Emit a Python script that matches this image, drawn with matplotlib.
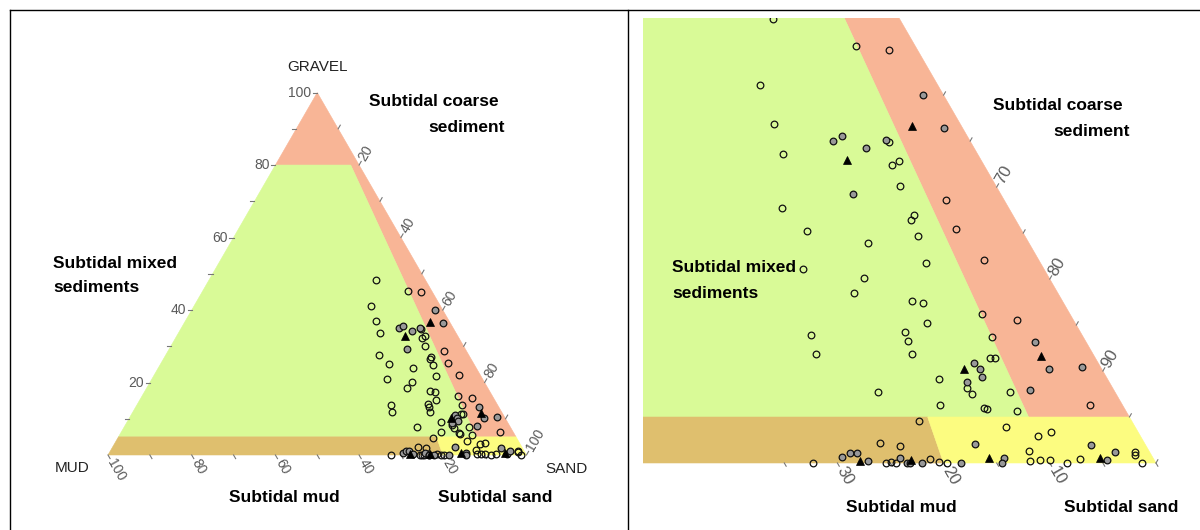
import numpy as np
import matplotlib.pyplot as plt
from matplotlib.lines import Line2D

plt.rcParams['font.family'] = ['Liberation Sans', 'DejaVu Sans']

# samples: percent gravel and percent mud (sand is the remainder)
open_gravel = [48.3, 41.1, 36.9, 33.6, 27.7, 25.2, 45.3, 44.9, 34.9, 32.8, 32.4, 30.1,
               28.6, 27.0, 26.4, 25.4, 24.7, 23.9, 21.1, 13.9, 11.9, 0.0, 21.7, 22.1,
               20.1, 18.5, 17.6, 17.4, 15.2, 16.2, 13.7, 14.2, 13.3, 11.8, 11.4, 11.4,
               8.2, 7.5, 9.1, 7.7, 6.3, 6.0, 5.9, 4.6, 2.2, 1.8, 0.0, 0.1,
               0.0, 0.4, 0.1, 0.0, 15.6, 7.7, 6.3, 5.6, 3.9, 2.9, 3.4, 1.3,
               0.2, 0.3, 0.3, 0.0, 0.4, 0.9, 1.2, 0.0]
open_mud = [11.9, 16.7, 17.5, 18.3, 21.4, 20.3, 5.6, 2.7, 7.7, 7.8, 8.7, 9.1,
            5.5, 9.3, 9.9, 6.1, 10.1, 15.2, 22.7, 25.5, 26.1, 32.3, 10.8, 5.1,
            17.4, 19.2, 14.2, 13.2, 14.0, 8.3, 8.6, 16.5, 16.7, 17.1, 9.9, 9.5,
            13.7, 13.6, 15.9, 22.3, 17.2, 13.2, 13.0, 20.0, 24.9, 23.2, 25.4, 24.9,
            24.5, 21.1, 20.4, 19.7, 5.3, 9.9, 3.1, 10.3, 12.2, 9.7, 8.2, 11.3,
            11.8, 10.8, 9.8, 8.4, 7.0, 1.5, 1.4, 1.3]

grey_gravel = [40.0, 36.4, 35.0, 35.6, 34.2, 35.1, 29.2, 10.9, 10.2, 9.4, 8.8, 2.1,
               0.6, 1.1, 1.1, 0.2, 0.5, 0.0, 0.0, 0.0, 0.0, 13.2, 10.2, 10.4,
               7.9, 2.0, 0.5, 0.0, 0.3, 1.2]
grey_mud = [1.9, 1.8, 12.9, 11.8, 10.2, 7.9, 13.9, 11.7, 11.5, 11.7, 13.4, 16.0,
            29.3, 28.3, 27.6, 27.0, 23.9, 23.4, 23.2, 22.0, 18.4, 4.8, 5.0, 1.8,
            7.9, 5.1, 14.1, 14.5, 4.5, 3.3]

tri_gravel = [36.6, 32.9, 10.2, 0.25, 0.3, 0.5, 11.6, 0.5]
tri_mud = [4.7, 12.6, 13.0, 27.7, 22.9, 15.5, 5.0, 5.0]

# class limits of the simplified Folk triangle
GRAVEL_COARSE = 80
GRAVEL_MIN = 5
MUD_FRAC_MIXED = 0.1
MUD_FRAC_MUD = 0.2

C_COARSE = '#F8B596'
C_MIXED = '#D9FA97'
C_MUD = '#DFBF6E'
C_SAND = '#FCFC80'

W, H = 1200, 530
fig = plt.figure(figsize=(W / 100, H / 100), dpi=100)


def tern(gravel, mud):
    gravel = np.asarray(gravel, float)
    mud = np.asarray(mud, float)
    sand = 100 - gravel - mud
    return sand + gravel / 2, gravel * np.sqrt(3) / 2


def regions():
    g1, g0 = GRAVEL_COARSE, GRAVEL_MIN
    r1, r2 = MUD_FRAC_MIXED, MUD_FRAC_MUD
    return [
        (C_COARSE, [(100, 0), (g1, 100 - g1), (g1, (100 - g1) * r1),
                    (g0, (100 - g0) * r1), (g0, 0)]),
        (C_MIXED, [(g1, 100 - g1), (g0, 100 - g0), (g0, (100 - g0) * r1),
                   (g1, (100 - g1) * r1)]),
        (C_MUD, [(g0, 100 - g0), (0, 100), (0, 100 * r2), (g0, (100 - g0) * r2)]),
        (C_SAND, [(g0, (100 - g0) * r2), (0, 100 * r2), (0, 0), (g0, 0)]),
    ]


def place(ax, box, corner, unit):
    # box in pixels (left, top, right, bottom), corner = pixel of the MUD vertex
    l, t, r, b = box
    ax.set_position([l / W, 1 - b / H, (r - l) / W, (b - t) / H])
    cx, cy = corner
    ax.set_xlim((l - cx) / unit, (r - cx) / unit)
    ax.set_ylim((cy - b) / unit, (cy - t) / unit)
    ax.axis('off')


def draw(ax):
    for col, verts in regions():
        g, m = zip(*verts)
        x, y = tern(g, m)
        ax.fill(x, y, color=col, lw=0.4, ec=col, zorder=1)
    x, y = tern(open_gravel, open_mud)
    ax.plot(x, y, 'o', ms=4.8, mfc='none', mec='#111111', mew=0.9, zorder=3)
    x, y = tern(grey_gravel, grey_mud)
    ax.plot(x, y, 'o', ms=4.8, mfc='#999999', mec='#111111', mew=0.9, zorder=4)
    x, y = tern(tri_gravel, tri_mud)
    ax.plot(x, y, '^', ms=6.2, mfc='black', mec='black', mew=0.5, zorder=5)


def ticks(ax, side, values, labels, tl, fs):
    c60, s60 = 0.5, np.sqrt(3) / 2
    for v in values:
        if side == 'gravel':
            x, y = tern(v, 100 - v)
            dx, dy = -tl, 0
            rot, ha = 0, 'right'
        elif side == 'sand':
            x, y = tern(100 - v, 0)
            dx, dy = tl * c60, tl * s60
            rot, ha = 60, 'left'
        else:
            x, y = tern(0, v)
            dx, dy = tl * c60, -tl * s60
            rot, ha = -60, 'left'
        ax.plot([x, x + dx], [y, y + dy], color='#777777', lw=0.8, clip_on=False)
        if v in labels:
            ax.text(x + dx * 1.4, y + dy * 1.4, str(v), rotation=rot,
                    rotation_mode='anchor', ha=ha, va='center', fontsize=fs,
                    color='#5a5a5a', clip_on=False)


def label(px, py, s, **kw):
    fig.text(px / W, 1 - py / H, s, va='center', **kw)


# left panel: whole triangle
axL = fig.add_axes([0, 0, 1, 1])
place(axL, (10, 10, 628, 530), (108, 455), 4.185)
draw(axL)
ticks(axL, 'gravel', range(10, 101, 10), range(20, 101, 20), 1.0, 10)
ticks(axL, 'sand', range(10, 101, 10), range(20, 101, 20), 1.0, 10)
ticks(axL, 'mud', range(10, 101, 10), range(20, 101, 20), 1.0, 10)

# right panel: zoom on the sandy corner
axR = fig.add_axes([0, 0, 1, 1])
place(axR, (643, 18, 1200, 530), (94, 463), 10.62)
draw(axR)
ticks(axR, 'sand', range(60, 101, 5), [70, 80, 90], 0.35, 12)
ticks(axR, 'mud', range(0, 36, 5), [10, 20, 30], 0.35, 12)

bold = dict(fontsize=12.5, fontweight='bold', color='black')
label(317, 67, 'GRAVEL', ha='center', fontsize=11, color='#222222')
label(72, 468, 'MUD', ha='center', fontsize=11, color='#222222')
label(566, 469, 'SAND', ha='center', fontsize=11, color='#222222')
label(369, 102, 'Subtidal coarse', ha='left', **bold)
label(428, 127, 'sediment', ha='left', **bold)
label(53, 263, 'Subtidal mixed', ha='left', **bold)
label(53, 288, 'sediments', ha='left', **bold)
label(284.5, 497, 'Subtidal mud', ha='center', **bold)
label(495, 497, 'Subtidal sand', ha='center', **bold)

label(993, 105, 'Subtidal coarse', ha='left', **bold)
label(1053, 131, 'sediment', ha='left', **bold)
label(672, 267, 'Subtidal mixed', ha='left', **bold)
label(672, 293, 'sediments', ha='left', **bold)
label(901, 507, 'Subtidal mud', ha='center', **bold)
label(1121, 507, 'Subtidal sand', ha='center', **bold)

# panel frames
for xs, ys in [([10, 1200], [10, 10]), ([10, 10], [10, 530]), ([628, 628], [10, 530])]:
    fig.add_artist(Line2D([x / W for x in xs], [1 - y / H for y in ys],
                          color='black', lw=1))

fig.savefig('out.png', dpi=100)
